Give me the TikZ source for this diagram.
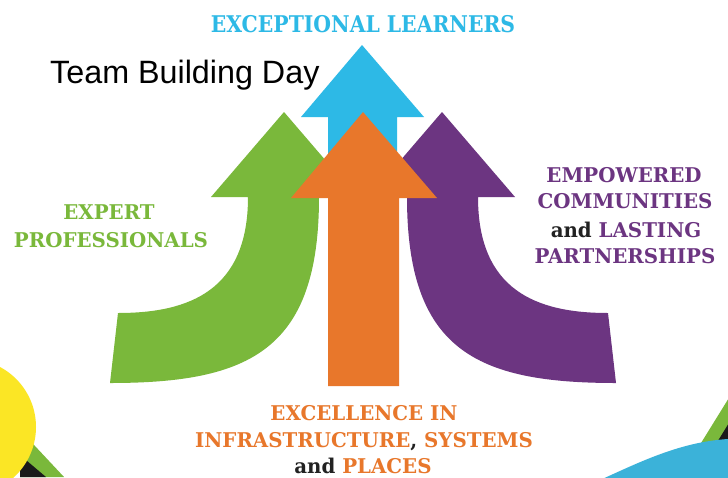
\documentclass[tikz,border=0pt]{standalone}
\usepackage{fontspec}
\setmainfont{DejaVu Serif}
\newfontfamily\arialf{Liberation Sans}
\definecolor{cgreen}{HTML}{7AB83B}
\definecolor{cblue}{HTML}{2DB9E6}
\definecolor{corange}{HTML}{E8772B}
\definecolor{cpurple}{HTML}{6C3581}
\definecolor{cyellow}{HTML}{FBE625}
\definecolor{cblue2}{HTML}{3BB2D9}
\definecolor{cdark}{HTML}{222222}
\definecolor{cblack}{HTML}{1A1A1A}
\newcommand\narrowA[1]{\scalebox{0.975}[1]{#1}}
\newcommand\narrowB[1]{\scalebox{0.885}[1]{#1}}
\tikzset{
  lab/.style={inner sep=0pt, anchor=base, font=\bfseries\fontsize{20.3}{24}\selectfont},
  biglab/.style={inner sep=0pt, anchor=base, font=\bfseries\fontsize{23}{27}\selectfont},
}
\begin{document}
\begin{tikzpicture}[x=1pt,y=-1pt]
\useasboundingbox (0,0) rectangle (728,477);
\fill[white] (0,0) rectangle (728,477);
\begin{scope}
\clip (0,0) rectangle (728,477);
% bottom-left corner decoration
\fill[cgreen] (20,430) -- (64,477) -- (20,477) -- cycle;
\fill[cblack] (20,455) -- (46,477) -- (20,477) -- cycle;
\fill[cyellow] (-32,427) circle (68);
% bottom-right corner decoration
\fill[cgreen] (740,380) -- (680,477) -- (740,477) -- cycle;
\fill[cblack] (740,405) -- (700,470) -- (740,470) -- cycle;
\fill[cblue2] (600,480) .. controls (640,462) and (680,442) .. (728,439) -- (740,439) -- (740,480) -- cycle;
\end{scope}
% blue arrow
\fill[cblue] (362,45) -- (424,117) -- (397,117) -- (397,230) -- (328,230) -- (328,117) -- (301,117) -- cycle;
% green arrow
\fill[cgreen] (284,112) -- (357,197) -- (319,197) .. controls (319,350) and (250,383) .. (110,383) -- (118,313) .. controls (190,313) and (248,290) .. (248,197) -- (211,197) -- cycle;
% purple arrow
\fill[cpurple] (442,112) -- (369,197) -- (407,197) .. controls (407,350) and (476,383) .. (616,383) -- (608,313) .. controls (536,313) and (478,290) .. (478,197) -- (515,197) -- cycle;
% orange arrow
\fill[corange] (363,112) -- (437,198) -- (399,198) -- (399,386) -- (328,386) -- (328,198) -- (291,198) -- cycle;
% texts
\node[biglab, text=cblue] (top) at (363,32) {\narrowB{EXCEPTIONAL LEARNERS}};
\node[inner sep=0pt, anchor=base west, font=\arialf\fontsize{32.3}{37}\selectfont] (title) at (50,83) {Team Building Day};
\node[lab, text=cgreen] (ep1) at (109,219) {\narrowA{EXPERT}};
\node[lab, text=cgreen] (ep2) at (111,247) {\narrowA{PROFESSIONALS}};
\node[lab, text=cpurple] (pc1) at (624,182) {\narrowA{EMPOWERED}};
\node[lab, text=cpurple] (pc2) at (625,208) {\narrowA{COMMUNITIES}};
\node[lab, text=cpurple] (pc3) at (626,237) {\narrowA{\textcolor{cdark}{and} LASTING}};
\node[lab, text=cpurple] (pc4) at (625,263) {\narrowA{PARTNERSHIPS}};
\node[lab, text=corange] (oc1) at (364,420) {\narrowA{EXCELLENCE IN}};
\node[lab, text=corange] (oc2) at (364,447) {\narrowA{INFRASTRUCTURE\textcolor{cdark}{,} SYSTEMS}};
\node[lab, text=corange] (oc3) at (363,473) {\narrowA{\textcolor{cdark}{and} PLACES}};
\end{tikzpicture}
\end{document}
